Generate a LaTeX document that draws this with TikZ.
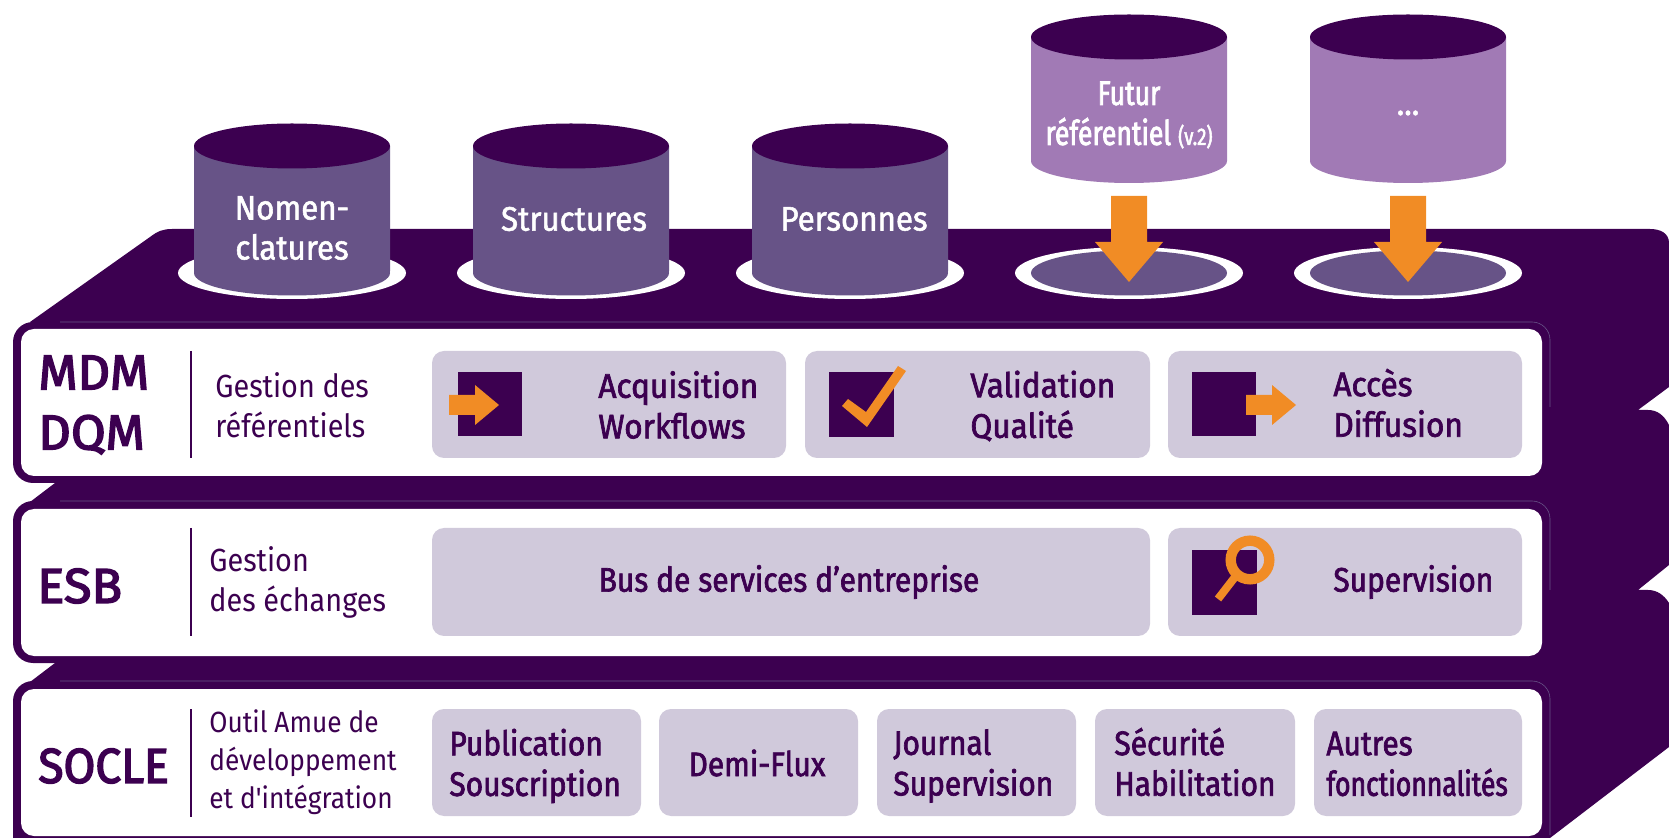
\documentclass[tikz,border=0pt]{standalone}
\usepackage{fontspec}
\setmainfont{Fira Sans}[FakeStretch=0.9]
\newfontfamily\plainf{Fira Sans}[FakeStretch=0.9]
\newfontfamily\medf{Fira Sans}[FakeBold=2,FakeStretch=0.93]
\newfontfamily\medn{Fira Sans}[FakeBold=2,FakeStretch=0.88]
\newfontfamily\cylf{Fira Sans}[FakeBold=1.6,FakeStretch=0.92]
\newfontfamily\narf{Fira Sans}[FakeBold=2.2,FakeStretch=0.78]
\newfontfamily\bigf{Fira Sans}[FakeBold=3,FakeStretch=1.03]
\newfontfamily\bign{Fira Sans}[FakeBold=3,FakeStretch=0.94]
\definecolor{dk}{HTML}{3C0050}
\definecolor{mid}{HTML}{675387}
\definecolor{lite}{HTML}{A17AB5}
\definecolor{pale}{HTML}{D0C9DB}
\definecolor{org}{HTML}{F18C25}
\tikzset{
 x=0.5pt,y=-0.5pt,
 card/.style={fill=white,draw=none,rounded corners=6.5pt},
 outer/.style={fill=dk,draw=none,rounded corners=10pt},
 tile/.style={fill=pale,rounded corners=6pt},
 bold/.style={font=\fontsize{17}{20.3}\medf,text=dk,align=left,inner sep=0pt},
 boldn/.style={font=\fontsize{17}{20.3}\medn,text=dk,align=left,inner sep=0pt},
 big/.style={font=\fontsize{24.5}{30}\bigf,text=dk,align=left,inner sep=0pt},
 thin/.style={font=\fontsize{16}{20}\selectfont,text=dk,align=left,inner sep=0pt},
 cyl/.style={font=\fontsize{17}{20}\cylf,text=white,align=center,inner sep=0pt},
 sep/.style={draw=dk,line width=1.25pt},
 sq/.style={fill=dk},
 orange/.style={fill=org}
}
\newcommand{\cylshape}[4]{% cx, top cy, bottom cy, colour
 \fill[#4] (#1-98,#2) -- (#1-98,#3) arc[start angle=180,end angle=360,x radius=98,y radius=-22] -- (#1+98,#2) -- cycle;
 \fill[dk] (#1,#2) ellipse[x radius=98,y radius=22.5];
}
\newcommand{\bigarrow}[1]{%
 \fill[orange] (#1-18,196) -- (#1+18,196) -- (#1+18,242) -- (#1+34,242) -- (#1,282) -- (#1-34,242) -- (#1-18,242) -- cycle;
}
\newcommand{\smallarrow}[3]{% left, base, y
 \fill[orange] (#1,#3-10) -- (#2,#3-10) -- (#2,#3-20) -- (#2+24,#3) -- (#2,#3+20) -- (#2,#3+10) -- (#1,#3+10) -- cycle;
}
\begin{document}
\begin{tikzpicture}
\useasboundingbox (0,0) rectangle (1669,838);
\clip (0,0) rectangle (1669,838);
% platform silhouette
\fill[dk] (30,322) -- (150,237) .. controls (158,231) and (163,229) .. (172,229)
 -- (1650,229) .. controls (1660,229) and (1669,233) .. (1669,243)
 -- (1669,387) -- (1638,410) -- (1648,410) .. controls (1657,410) and (1664,415) .. (1669,425)
 -- (1669,565) -- (1638,590) -- (1648,590) .. controls (1657,590) and (1664,595) .. (1669,603)
 -- (1669,747) -- (1550,838) -- (60,838) -- (60,690) -- (30,682) -- (55,663) -- (55,650)
 -- (60,650) -- (60,510) -- (30,502) -- (55,483) -- (55,470) -- (60,470) -- (60,340) -- cycle;
% card outers on the left
\path[outer] (13,322) rectangle (120,483);
\path[outer] (13,501) rectangle (120,663);
\path[outer] (13,681) rectangle (120,860);
% white cards
\path[card] (21,329) rectangle (1542,476);
\path[card] (21,509) rectangle (1542,656);
\path[card] (21,689) rectangle (1542,836);
% faint outlines
\draw[mid,line width=0.3pt,rounded corners=9pt] (60,322) -- (1550,322) -- (1550,407);
\draw[mid,line width=0.3pt,rounded corners=9pt] (60,501) -- (1550,501) -- (1550,590);
\draw[mid,line width=0.3pt,rounded corners=9pt] (60,681) -- (1550,681) -- (1550,835);
% platform ellipses
\foreach \c in {292,571,850,1129,1408}{
 \fill[white] (\c,273) ellipse[x radius=114,y radius=26];
 \fill[mid] (\c,273) ellipse[x radius=98,y radius=22.5];
}
% cylinders
\cylshape{292}{146}{271}{mid}
\cylshape{571}{146}{271}{mid}
\cylshape{850}{146}{271}{mid}
\cylshape{1129}{37}{161}{lite}
\cylshape{1408}{37}{161}{lite}
\node[cyl] (n1) at (292,228) {Nomen-\\clatures};
\node[cyl] (n2) at (574,219) {Structures};
\node[cyl] (n3) at (854,219) {Personnes};
\node[cyl,font=\fontsize{17}{20}\narf] (n4) at (1129,115) {Futur\\référentiel {\fontsize{12}{12}\selectfont (v.2)}};
\node[cyl] (n5) at (1408,113) {...};
\bigarrow{1129}
\bigarrow{1408}
% left labels
\node[big,anchor=west] (mdm) at (38,405) {MDM\\DQM};
\node[big,anchor=west] (esb) at (37,586) {ESB};
\node[big,anchor=west,font=\fontsize{24.5}{30}\bign] (soc) at (38,766) {SOCLE};
\draw[sep] (191,351) -- (191,458);
\draw[sep] (191,528) -- (191,636);
\draw[sep] (191,709) -- (191,817);
\node[thin,anchor=west] (t1) at (215,405) {Gestion des\\référentiels};
\node[thin,anchor=west] (t2) at (209,582) {Gestion\\des échanges};
\node[thin,anchor=west,font=\fontsize{14.6}{18.9}\plainf] (t3) at (209,762) {Outil Amue de\\développement\\et d'intégration};
% row tiles
\path[tile] (432,351) rectangle (786,458);
\path[tile] (805,351) rectangle (1150,458);
\path[tile] (1168,351) rectangle (1522,458);
\path[tile] (432,528) rectangle (1150,636);
\path[tile] (1168,528) rectangle (1522,636);
\path[tile] (432,709) rectangle (641,816);
\path[tile] (659,709) rectangle (858,816);
\path[tile] (877,709) rectangle (1076,816);
\path[tile] (1095,709) rectangle (1295,816);
\path[tile] (1314,709) rectangle (1522,816);
% icons
\fill[sq] (458,372) rectangle (522,436);
\smallarrow{449}{475}{405}
\fill[sq] (829,372) rectangle (894,437);
\fill[orange] (842,406) -- (867,427) -- (906,371) -- (898,366) -- (866,412) -- (848,399) -- cycle;
\fill[sq] (1192,372) rectangle (1256,436);
\smallarrow{1246}{1272}{405}
\fill[sq] (1192,550) rectangle (1257,615);
\draw[org,line width=5.2pt] (1250,560) circle[radius=19.3];
\draw[org,line width=4pt] (1235,577) -- (1218,599);
% tile text
\node[bold,anchor=west] (a) at (598,405) {Acquisition\\Workflows};
\node[bold,anchor=west] (b) at (970,406) {Validation\\Qualité};
\node[bold,anchor=west] (c) at (1333,403) {Accès\\Diffusion};
\node[boldn] (d) at (789,582) {Bus de services d’entreprise};
\node[boldn,anchor=west] (e) at (1333,582) {Supervision};
\node[boldn,anchor=west] (f) at (449,766) {Publication\\Souscription};
\node[boldn] (g) at (757,763) {Demi-Flux};
\node[boldn,anchor=west] (h) at (893,766) {Journal\\Supervision};
\node[boldn,anchor=west] (i) at (1114,762) {Sécurité\\Habilitation};
\node[bold,anchor=west,font=\fontsize{17}{20.3}\narf] (j) at (1326,764) {{\medn Autres}\\fonctionnalités};
\end{tikzpicture}
\end{document}
